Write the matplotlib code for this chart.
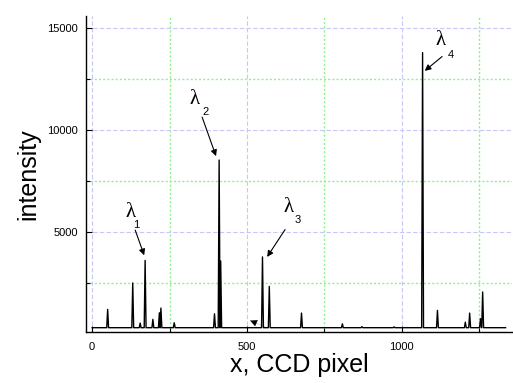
import numpy as np
import matplotlib
matplotlib.use('Agg')
import matplotlib.pyplot as plt
from matplotlib.ticker import MultipleLocator

# peak positions (CCD pixel) and peak heights
peak_x = [50, 131, 155, 171, 196, 217, 222, 265, 395, 410, 415, 550, 572,
          676, 808, 871, 975, 1067, 1115, 1205, 1219, 1254, 1261]
peak_y = [1225, 2515, 555, 3620, 735, 1060, 1290, 570, 1010, 8530, 3590, 3790, 2350,
          1045, 520, 380, 370, 13780, 1176, 600, 1045, 770, 2075]
baseline = 330
x_start, x_end = 0, 1335

# label text, text position, arrow tail, arrow head
labels = ['1', '2', '3', '4']
label_xy = [(123, 5980), (332, 11470), (633, 6210), (1126, 14370)]
sub_xy = [(142, 5340), (365, 10880), (663, 5620), (1157, 13670)]
arrow_tail = [(139, 5100), (355, 10630), (623, 5130), (1130, 13590)]
arrow_head = [(168, 3870), (400, 8720), (565, 3790), (1074, 12890)]

# build the spectrum polyline from the peak list
xs = [x_start]
ys = [baseline]
for px, py in zip(peak_x, peak_y):
    xs += [px - 3, px, px + 3]
    ys += [baseline, py, baseline]
xs.append(x_end)
ys.append(baseline)

plt.rcParams['font.family'] = ['Liberation Sans', 'DejaVu Sans']

fig = plt.figure(figsize=(5.13, 3.83), dpi=100)
ax = fig.add_axes([0.1676, 0.1332, 0.830, 0.8238])

ax.plot(xs, ys, color='black', lw=1.0)

ax.set_xlim(-20, 1355)
ax.set_ylim(120, 15550)

ax.xaxis.set_major_locator(MultipleLocator(500))
ax.xaxis.set_minor_locator(MultipleLocator(250))
ax.yaxis.set_major_locator(MultipleLocator(5000))
ax.yaxis.set_minor_locator(MultipleLocator(2500))
ax.tick_params(which='both', direction='in', labelsize=8, width=0.8)
ax.tick_params(which='major', length=4.5)
ax.tick_params(which='minor', length=3)
ax.tick_params(axis='x', pad=7)
ax.tick_params(axis='y', pad=6)

ax.grid(which='major', color='#c8c8f8', linestyle=(0, (4, 2)), lw=0.8)
ax.grid(which='minor', color='#8ef08e', linestyle=(0, (1.5, 1.5)), lw=1.0)
ax.set_axisbelow(True)

for side in ['top', 'right']:
    ax.spines[side].set_visible(False)
for side in ['left', 'bottom']:
    ax.spines[side].set_linewidth(1.0)

ax.set_xlabel('x, CCD pixel', fontsize=18, labelpad=1)
ax.set_ylabel('intensity', fontsize=18, labelpad=5)

for lab, lxy, sxy, tail, head in zip(labels, label_xy, sub_xy, arrow_tail, arrow_head):
    ax.text(lxy[0], lxy[1], '\u03bb', family='Liberation Serif', fontsize=15,
            ha='center', va='center')
    ax.text(sxy[0], sxy[1], lab, fontsize=8, ha='center', va='center')
    ax.annotate('', xy=head, xytext=tail,
                arrowprops=dict(arrowstyle='-|>', color='black', lw=0.8,
                                mutation_scale=9, shrinkA=0, shrinkB=0))

# small stray arrowhead near the baseline
ax.annotate('', xy=(510, 680), xytext=(560, 360),
            arrowprops=dict(arrowstyle='-|>', color='black', lw=0.1,
                            mutation_scale=12, shrinkA=0, shrinkB=0))

fig.savefig('out.png', dpi=100)
